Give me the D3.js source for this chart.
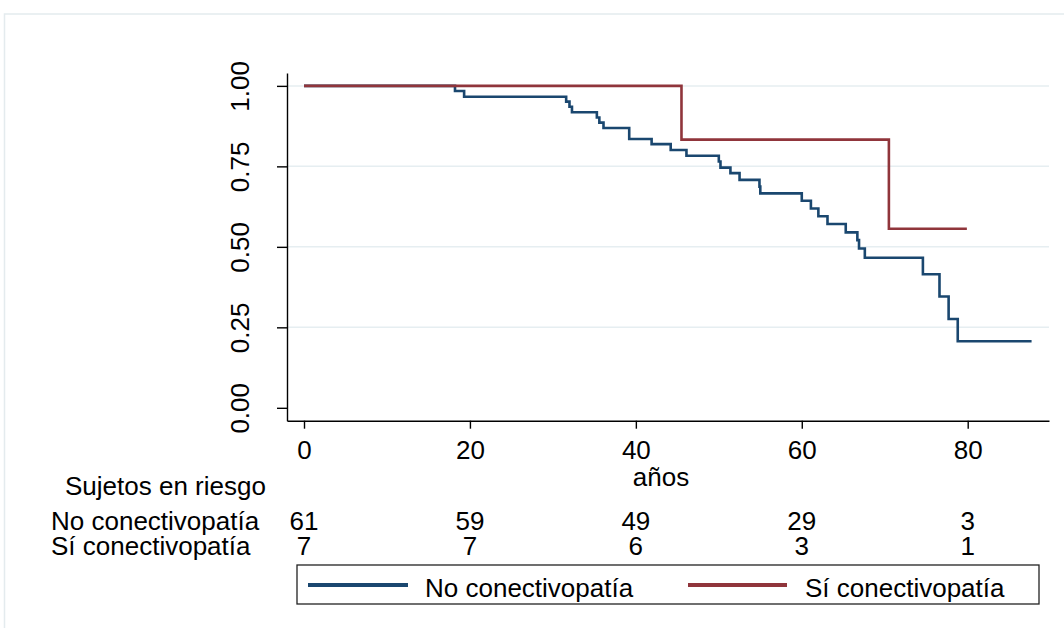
<!DOCTYPE html>
<html>
<head>
<meta charset="utf-8">
<script src="https://cdn.jsdelivr.net/npm/d3@7"></script>
<style>
  body { margin: 0; background: #fff; }
  svg text { font-family: "Liberation Sans", Arial, sans-serif; fill: #000; }
</style>
</head>
<body>
<script>
// Kaplan-Meier steps
const noTimes = [0, 18.2, 19.3, 31.6, 32.0, 32.3, 35.3, 35.6, 36.1, 39.2, 41.9, 44.2, 46.1, 50.0, 50.2, 51.4, 52.5, 54.9, 55.0, 60.0, 61.1, 62.0, 63.1, 65.3, 66.7, 66.9, 67.6, 74.6, 76.6, 77.7, 78.8, 87.7];
const noSurv  = [1.0, 0.984, 0.966, 0.951, 0.935, 0.918, 0.902, 0.886, 0.869, 0.835, 0.819, 0.801, 0.783, 0.765, 0.746, 0.729, 0.708, 0.687, 0.666, 0.643, 0.619, 0.595, 0.571, 0.545, 0.521, 0.495, 0.466, 0.415, 0.346, 0.276, 0.207, 0.207];
const siTimes = [0, 45.5, 70.5, 79.9];
const siSurv  = [1.0, 0.833, 0.556, 0.556];

const xTicks = [0, 20, 40, 60, 80];
const yTicks = [0, 0.25, 0.5, 0.75, 1];
const gridTicks = [0.25, 0.5, 0.75, 1];

const groups = ["No conectivopatía", "Sí conectivopatía"];
const atRisk = [[61, 59, 49, 29, 3], [7, 7, 6, 3, 1]];
const colors = ["#1a476f", "#90353b"];

const width = 1064, height = 628;
const svg = d3.select("body").append("svg")
  .attr("width", width)
  .attr("height", height);

// outer graph region border
svg.append("rect")
  .attr("x", 4.5).attr("y", 14)
  .attr("width", 1100).attr("height", 700)
  .attr("fill", "#fff")
  .attr("stroke", "#e4ebee")
  .attr("stroke-width", 1.5);

const x = d3.scaleLinear().domain([-2.05, 89.8]).range([287, 1049]);
const y = d3.scaleLinear().domain([-0.04, 1.04]).range([420.7, 73]);

// gridlines
svg.selectAll(".grid")
  .data(gridTicks)
  .enter()
  .append("line")
  .attr("class", "grid")
  .attr("x1", x.range()[0]).attr("x2", x.range()[1])
  .attr("y1", d => y(d)).attr("y2", d => y(d))
  .attr("stroke", "#e6eef1")
  .attr("stroke-width", 1.5);

// curves
const line = d3.line()
  .x(d => x(d[0]))
  .y(d => y(d[1]))
  .curve(d3.curveStepAfter);

const series = [d3.zip(noTimes, noSurv), d3.zip(siTimes, siSurv)];
series.forEach((s, i) => {
  svg.append("path")
    .datum(s)
    .attr("fill", "none")
    .attr("stroke", colors[i])
    .attr("stroke-width", 2.6)
    .attr("d", line);
});

// y axis
const yAxis = svg.append("g")
  .attr("transform", `translate(${x.range()[0]},0)`)
  .call(d3.axisLeft(y).tickValues(yTicks).tickSize(10).tickSizeOuter(0).tickFormat(d3.format(".2f")));
yAxis.selectAll("text")
  .attr("transform", "rotate(-90)")
  .attr("x", 0)
  .attr("y", -38)
  .attr("dy", 0)
  .style("text-anchor", "middle")
  .style("font-size", "26px");

// x axis
const xAxis = svg.append("g")
  .attr("transform", `translate(0,${y.range()[0]})`)
  .call(d3.axisBottom(x).tickValues(xTicks).tickSize(8).tickSizeOuter(0));
xAxis.selectAll("text")
  .attr("y", 38)
  .attr("dy", 0)
  .style("font-size", "26px");

svg.selectAll(".domain, .tick line")
  .attr("stroke", "#000")
  .attr("stroke-width", 1.4);

// axis title
svg.append("text")
  .attr("x", 661).attr("y", 486)
  .style("text-anchor", "middle")
  .style("font-size", "26px")
  .text("años");

// number at risk table
svg.append("text")
  .attr("x", 65).attr("y", 495)
  .style("font-size", "26px")
  .text("Sujetos en riesgo");

const rowY = [530, 555];
groups.forEach((g, i) => {
  svg.append("text")
    .attr("x", 51).attr("y", rowY[i])
    .style("font-size", "26px")
    .text(g);
  svg.selectAll(".risk" + i)
    .data(atRisk[i])
    .enter()
    .append("text")
    .attr("class", "risk" + i)
    .attr("x", (d, j) => x(xTicks[j]))
    .attr("y", rowY[i])
    .style("text-anchor", "middle")
    .style("font-size", "26px")
    .text(d => d);
});

// legend
const legend = svg.append("g");
legend.append("rect")
  .attr("x", 297).attr("y", 565)
  .attr("width", 742).attr("height", 39)
  .attr("fill", "#fff")
  .attr("stroke", "#222")
  .attr("stroke-width", 1.3);

const legendItems = [
  { x1: 308, x2: 408, tx: 425 },
  { x1: 688, x2: 787, tx: 805 }
];
legendItems.forEach((it, i) => {
  legend.append("line")
    .attr("x1", it.x1).attr("x2", it.x2)
    .attr("y1", 585).attr("y2", 585)
    .attr("stroke", colors[i])
    .attr("stroke-width", 4);
  legend.append("text")
    .attr("x", it.tx).attr("y", 597)
    .style("font-size", "26px")
    .text(groups[i]);
});
</script>
</body>
</html>
